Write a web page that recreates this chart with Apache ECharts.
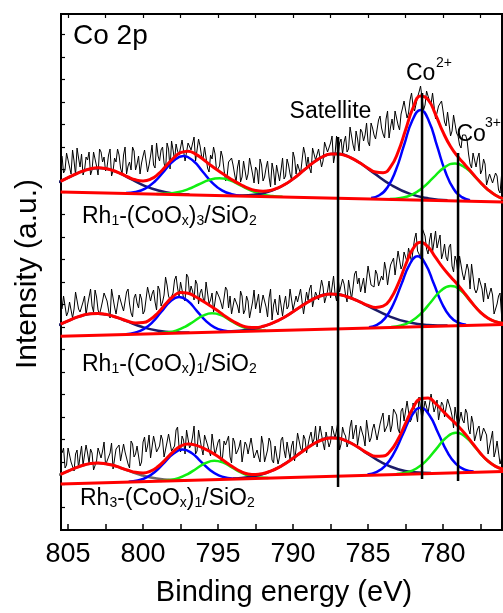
<!DOCTYPE html>
<html><head><meta charset="utf-8">
<script src="https://cdn.jsdelivr.net/npm/echarts@6/dist/echarts.min.js"></script>
<style>html,body{margin:0;padding:0;background:#fff}#c{width:503px;height:613px}</style>
</head><body><div id="c"></div>
<script>
const FONT = '"Liberation Sans", Arial, Helvetica, sans-serif';

// ---- x axis (binding energy, eV) ----
const xMin = 776.07, xMax = 805.47;
const xTicks = [777.5, 780, 782.5, 785, 787.5, 790, 792.5, 795, 797.5, 800, 802.5, 805];
const xTickLabels = [780, 785, 790, 795, 800, 805];
const yTicks = [22, 45, 67, 90, 112, 135, 157, 180, 202, 225, 247, 270, 292, 315, 337, 360, 382, 405, 427, 450, 472, 495];

// ---- raw spectra: samples at 805.4, 805.2, ... (A) and 805.3, 805.1, ... (B) ----
const A_START = 805.4, B_START = 805.3, STEP = 0.2;
const raw1A = [373,359,377,355,368,381,362,354,372,377,359,370,354,377,372,362,380,358,367,374,355,382,363,359,378,365,355,373,378,364,384,361,373,379,366,386,360,379,385,374,389,368,386,379,392,368,383,370,384,357,370,375,357,378,359,352,367,364,347,369,352,366,355,369,346,359,370,348,361,352,366,344,364,359,350,370,355,377,355,366,355,375,372,356,383,370,380,368,387,377,393,375,371,390,387,377,402,384,398,378,397,394,387,406,394,388,413,395,410,391,410,418,404,415,428,411,429,423,416,437,443,424,433,425,435,408,425,418,403,418,398,414,393,381,392,389,365,376,362,376,359,365,342,355,345,353,336,346];
const raw1B = [356,376,362,379,354,371,375,359,369,354,377,363,380,367,358,374,353,371,380,361,374,355,367,382,359,373,366,379,357,373,364,386,368,382,359,380,388,368,378,373,390,368,387,381,368,390,373,382,361,374,382,358,363,372,348,367,371,355,362,347,368,349,371,355,362,345,364,352,368,342,358,364,348,371,353,364,349,371,365,355,382,362,361,381,369,380,362,387,377,386,366,393,386,375,393,380,401,378,390,400,388,406,383,401,390,409,401,391,418,402,399,419,399,421,419,416,436,418,432,443,419,438,428,436,410,423,428,407,417,393,414,396,384,394,394,375,361,378,371,355,370,344,355,346,356,339,354];
const raw2A = [220,232,217,227,220,235,217,227,214,232,223,239,219,221,236,228,211,231,215,234,223,219,240,216,231,226,235,215,220,241,235,227,243,223,234,244,229,236,253,233,246,228,252,243,229,245,236,231,247,225,236,216,239,226,221,239,233,213,227,216,233,219,228,213,239,220,216,234,222,231,209,230,214,235,225,220,240,219,233,225,238,217,229,244,222,236,227,242,227,248,232,235,252,237,245,227,250,242,258,251,237,236,263,244,242,255,243,249,259,255,266,254,278,260,277,267,280,279,296,275,301,293,275,296,277,281,294,276,272,282,263,273,253,264,249,265,240,264,236,251,240,246,230,241,215,225,236,212];
const raw2B = [233,213,227,211,237,220,217,233,224,240,217,232,215,228,237,219,240,222,213,232,218,237,225,212,235,221,230,218,242,228,239,219,239,227,252,233,227,249,241,247,231,255,234,238,249,225,240,227,245,229,217,238,231,220,242,221,215,231,223,238,215,233,211,227,220,235,216,228,212,240,224,218,234,213,233,223,240,219,227,240,215,237,240,222,237,229,249,226,238,231,253,228,237,250,234,249,230,255,245,237,251,235,261,245,259,243,253,267,244,264,271,255,280,264,272,281,267,290,278,270,297,280,289,277,298,279,270,285,268,285,257,268,273,255,248,259,265,240,240,249,227,246,229,234,220,233,214];
const raw3A = [76,61,81,67,58,79,73,64,84,66,76,61,81,71,87,65,76,60,80,84,68,77,65,88,72,83,63,87,77,94,71,86,75,94,72,87,93,76,99,82,93,75,98,84,103,78,90,74,93,82,95,74,87,68,88,82,72,91,75,82,67,87,75,91,71,79,67,85,73,91,69,83,65,89,79,87,70,88,80,96,77,90,75,97,90,82,103,86,97,82,103,91,108,85,96,82,102,90,104,86,97,83,108,91,105,89,105,116,96,114,104,119,100,118,108,128,107,126,117,132,109,128,116,135,117,129,107,124,111,128,113,122,101,117,106,116,95,106,88,103,88,100,75,90,72,88,65,77];
const raw3B = [81,64,79,67,75,61,83,64,76,80,59,68,82,78,64,72,86,61,82,68,85,78,61,85,75,84,67,92,83,71,93,77,83,89,71,95,78,83,102,77,89,99,81,92,75,99,81,94,84,73,97,76,90,72,84,93,66,87,78,89,66,84,75,89,70,72,93,67,79,87,66,82,72,92,71,88,83,68,96,81,94,76,92,86,103,82,101,79,95,87,103,99,79,102,93,87,109,98,84,103,92,109,87,100,106,87,111,97,104,97,120,114,96,121,110,130,110,121,107,131,119,128,114,136,122,109,127,112,130,120,101,121,102,109,120,100,113,88,100,88,101,94,75,98,78,89,66];

// ---- fitted envelopes (red), sampled every 0.5 eV ----
const fitE = [805.5,805,804.5,804,803.5,803,802.5,802,801.5,801,800.5,800,799.5,799,798.5,798,797.5,797,796.5,796,795.5,795,794.5,794,793.5,793,792.5,792,791.5,791,790.5,790,789.5,789,788.5,788,787.5,787,786.5,786,785.5,785,784.5,784,783.5,783,782.5,782,781.5,781,780.5,780,779.5,779,778.5,778,777.5,777,776.5,776];
const env1 = [347.7,351.3,354.9,358.0,360.3,361.2,360.5,358.5,355.5,352.0,349.2,348.1,349.8,354.8,362.5,370.5,376.3,377.8,374.9,369.7,363.9,358.5,353.5,348.6,344.5,340.8,338.5,337.7,338.6,341.1,345.0,350.1,356.0,362.2,368.0,372.5,375.0,375.1,373.4,370.1,365.7,360.8,356.9,356.3,362.1,377.0,399.1,421.1,432.9,429.4,414.4,396.8,382.5,372.1,363.6,354.9,346.5,339.2,333.8,330.3];
const env2 = [204.8,208.1,211.3,213.8,215.3,215.6,214.7,212.8,210.3,207.8,206.1,206.4,209.7,216.3,224.9,232.5,236.5,235.8,232.2,227.7,223.0,218.1,212.5,207.7,203.9,201.8,201.5,202.7,205.1,208.4,212.5,217.3,222.3,227.0,231.1,233.8,234.9,234.5,232.8,230.1,226.8,223.6,221.6,222.8,230.2,244.9,264.0,280.3,286.7,282.1,271.6,261.1,252.3,243.8,234.5,224.9,216.6,210.8,207.3,205.7];
const env3 = [54.7,57.9,61.1,63.7,65.4,66.0,65.3,63.7,61.2,58.7,56.7,56.1,57.9,62.5,69.5,77.2,82.8,84.9,83.9,80.9,77.1,72.5,67.0,61.9,57.6,55.1,54.5,55.5,57.9,61.2,65.6,70.7,76.2,81.5,86.2,89.5,91.1,90.7,88.4,84.8,80.2,75.7,72.7,72.9,78.2,89.7,105.6,121.0,130.3,131.0,125.5,117.7,110.2,103.0,94.6,85.0,75.6,67.8,62.7,59.9];

// ---- linear backgrounds [eV, intensity] ----
const base1 = [[805.5,337.0],[776.0,327.0]];
const base2 = [[805.5,192.7],[776.0,204.5]];
const base3 = [[805.5,45.0],[776.0,57.5]];

// ---- fitted components [eV, intensity] ----
const n1 = [[796.9,334.4],[797.9,335.5],[798.9,338.2],[799.9,343.2],[800.9,350.7],[801.9,357.9],[802.9,361.1],[803.9,358.6],[804.9,352.0],[805.9,345.3],[806.9,340.9]];
const b1 = [[793.46,333.4],[794.1,334.9],[794.74,338.6],[795.38,346.2],[796.02,357.3],[796.66,368.2],[797.3,372.9],[797.94,368.6],[798.58,358.2],[799.22,347.5],[799.86,340.4],[800.5,337.0],[801.14,336.0]];
const g1 = [[790.7,332.2],[791.4,333.0],[792.1,334.8],[792.8,338.4],[793.5,343.5],[794.2,348.6],[794.9,350.8],[795.6,349.0],[796.3,344.5],[797.0,339.8],[797.7,336.7],[798.4,335.4],[799.1,335.0]];
const sat1 = [[779.7,328.8],[780.95,330.6],[782.2,335.1],[783.45,344.0],[784.7,356.9],[785.95,369.7],[787.2,375.3],[788.25,370.4],[789.3,358.5],[790.35,346.3],[791.4,338.3],[792.45,334.5],[793.5,333.4]];
const co2a = [[778.2,328.8],[778.75,331.9],[779.3,340.3],[779.85,357.5],[780.4,383.1],[780.95,408.1],[781.5,418.9],[782.05,408.5],[782.6,383.8],[783.15,358.7],[783.7,341.8],[784.25,333.8],[784.8,331.0]];
const co3a = [[774.85,327.0],[775.58,328.5],[776.3,332.2],[777.03,339.5],[777.75,350.3],[778.48,360.9],[779.2,365.6],[779.93,361.4],[780.65,351.3],[781.38,341.0],[782.1,334.1],[782.83,331.0],[783.55,330.0]];

const n2 = [[796.9,196.4],[797.95,196.7],[799.0,198.3],[800.05,202.0],[801.1,207.8],[802.15,213.5],[803.2,215.6],[804.25,212.6],[805.3,206.1],[806.35,199.5]];
const b2 = [[794.06,197.7],[794.65,198.6],[795.24,201.7],[795.83,208.3],[796.42,218.2],[797.01,227.9],[797.6,231.9],[798.19,227.4],[798.78,217.2],[799.37,206.8],[799.96,199.8],[800.55,196.3],[801.14,194.8]];
const g2 = [[791.8,198.4],[792.4,198.8],[793.0,200.3],[793.6,203.6],[794.2,208.7],[794.8,213.8],[795.4,215.7],[796.0,213.3],[796.6,207.8],[797.2,202.2],[797.8,198.4],[798.4,196.4],[799.0,195.5]];
const sat2 = [[779.7,203.4],[781.0,204.0],[782.3,206.7],[783.6,212.8],[784.9,222.2],[786.2,231.3],[787.5,234.9],[788.6,230.4],[789.7,220.3],[790.8,209.9],[791.9,202.9],[793.0,199.2],[794.1,197.7]];
const co2b = [[778.46,204.3],[779.0,206.4],[779.54,212.6],[780.08,225.8],[780.62,245.4],[781.16,264.7],[781.7,272.7],[782.24,264.2],[782.78,244.6],[783.32,224.5],[783.86,210.9],[784.4,204.2],[784.94,201.7]];
const co3b = [[775.54,205.1],[776.2,206.2],[776.86,209.6],[777.52,216.9],[778.18,227.9],[778.84,238.7],[779.5,243.1],[780.16,238.1],[780.82,226.8],[781.48,215.3],[782.14,207.5],[782.8,203.5],[783.46,202.0]];

const n3 = [[797.1,48.8],[798.1,49.0],[799.1,50.4],[800.1,53.8],[801.1,59.0],[802.1,64.1],[803.1,66.0],[804.1,63.2],[805.1,57.3],[806.1,51.2]];
const b3 = [[793.76,50.3],[794.36,51.1],[794.96,53.6],[795.56,59.3],[796.16,67.7],[796.76,76.0],[797.36,79.4],[797.96,75.5],[798.56,66.7],[799.16,57.7],[799.76,51.6],[800.36,48.5],[800.96,47.2]];
const g3 = [[791.65,51.1],[792.25,51.4],[792.85,52.9],[793.45,56.3],[794.05,61.4],[794.65,66.3],[795.25,68.3],[795.85,65.8],[796.45,60.3],[797.05,54.7],[797.65,50.9],[798.25,48.9],[798.85,48.0]];
const sat3 = [[780.8,55.9],[781.9,56.7],[783.0,59.7],[784.1,66.6],[785.2,76.9],[786.3,87.1],[787.4,91.2],[788.5,86.2],[789.6,75.1],[790.7,63.8],[791.8,56.0],[792.9,52.0],[794.0,50.3]];
const co2c = [[777.96,57.4],[778.55,59.3],[779.14,65.1],[779.73,77.3],[780.32,95.7],[780.91,113.7],[781.5,121.2],[782.09,113.2],[782.68,94.7],[783.27,75.8],[783.86,63.1],[784.45,56.8],[785.04,54.4]];
const co3c = [[775.18,58.3],[775.84,59.3],[776.5,62.7],[777.16,70.0],[777.82,81.0],[778.48,91.8],[779.14,96.2],[779.8,91.2],[780.46,79.9],[781.12,68.3],[781.78,60.5],[782.44,56.5],[783.1,54.9]];

// ---- reference lines (eV, top, bottom) ----
const refE = [787.0, 781.4, 779.0];
const refTop = [392, 436, 376];
const refBottom = [42, 50, 48];

// ---- styling ----
const RED = '#ff0000', BLUE = '#0000ff', GREEN = '#11ee11', NAVY = '#1c1c68', GREY = '#6a6a6a';

function ln(data, color, width, z, smooth) {
  return { type: 'line', data: data, symbol: 'none', showSymbol: false, smooth: smooth,
    lineStyle: { color: color, width: width }, itemStyle: { color: color },
    z: z, silent: true, clip: true, animation: false };
}
function rawPairs(a, b) {
  const out = [];
  for (let i = 0; i < a.length; i++) {
    out.push([+(A_START - i * STEP).toFixed(1), a[i]]);
    if (i < b.length) out.push([+(B_START - i * STEP).toFixed(1), b[i]]);
  }
  return out;
}
function envPairs(arr) { return fitE.map((e, i) => [e, arr[i]]); }

const series = [];
[[raw1A, raw1B, env1, base1, n1, b1, g1, sat1, co2a, co3a, NAVY],
 [raw2A, raw2B, env2, base2, n2, b2, g2, sat2, co2b, co3b, NAVY],
 [raw3A, raw3B, env3, base3, n3, b3, g3, sat3, co2c, co3c, GREY]].forEach(s => {
  series.push(ln(rawPairs(s[0], s[1]), '#000', 1, 2, false));
  series.push(ln(s[4], s[10], 2.5, 3, true));
  series.push(ln(s[5], BLUE, 2.5, 3, true));
  series.push(ln(s[6], GREEN, 2.5, 3, true));
  series.push(ln(s[7], NAVY, 2.5, 3, true));
  series.push(ln(s[8], BLUE, 2.5, 3, true));
  series.push(ln(s[9], GREEN, 2.5, 3, true));
  series.push(ln(s[3], RED, 3, 4, false));
  series.push(ln(envPairs(s[2]), RED, 3, 4, true));
});
refE.forEach((e, i) => series.push(ln([[e, refTop[i]], [e, refBottom[i]]], '#000', 2.5, 5, false)));

function txt(x, y, text, size, align, extra) {
  return Object.assign({ type: 'text', x: x, y: y, silent: true, z: 100,
    style: { text: text, fontSize: size, fontFamily: FONT, fill: '#000', align: align || 'left', verticalAlign: 'middle' } }, extra || {});
}
function richLabel(x, y, parts) {
  return { type: 'text', x: x, y: y, silent: true, z: 100,
    style: { text: parts, fontFamily: FONT, fill: '#000', align: 'left', verticalAlign: 'middle',
      rich: { m: { fontSize: 23, fontFamily: FONT, fill: '#000' },
              s: { fontSize: 14, fontFamily: FONT, fill: '#000', verticalAlign: 'bottom' } } } };
}

const option = {
  animation: false,
  backgroundColor: '#fff',
  grid: { left: 61, right: 1, top: 14, bottom: 83, containLabel: false, outerBoundsMode: 'none',
          show: true, borderColor: '#000', borderWidth: 2, backgroundColor: 'transparent' },
  xAxis: [
    { type: 'value', min: xMin, max: xMax, inverse: true, position: 'bottom',
      axisLine: { show: true, onZero: false, lineStyle: { color: '#000', width: 2 } },
      axisTick: { show: true, inside: true, length: 6, customValues: xTicks, lineStyle: { color: '#000', width: 1.5 } },
      axisLabel: { show: true, customValues: xTickLabels, fontSize: 27, fontFamily: FONT, color: '#000', margin: 11 },
      splitLine: { show: false } },
    { type: 'value', min: xMin, max: xMax, inverse: true, position: 'top',
      axisLine: { show: true, onZero: false, lineStyle: { color: '#000', width: 2 } },
      axisTick: { show: true, inside: true, length: 4, customValues: xTicks, lineStyle: { color: '#000', width: 1.2 } },
      axisLabel: { show: false }, splitLine: { show: false } }
  ],
  yAxis: [
    { type: 'value', min: -1, max: 515, position: 'left',
      axisLine: { show: true, onZero: false, lineStyle: { color: '#000', width: 2 } },
      axisTick: { show: true, inside: true, length: 4, customValues: yTicks, lineStyle: { color: '#000', width: 1.2 } },
      axisLabel: { show: false }, splitLine: { show: false } }
  ],
  series: series,
  graphic: [
    txt(73, 36, 'Co 2p', 28),
    txt(330.5, 112, 'Satellite', 23, 'center'),
    txt(406, 74, 'Co', 23),
    txt(436, 63.5, '2+', 14),
    txt(456.5, 134.5, 'Co', 23),
    txt(485, 123.5, '3+', 14),
    richLabel(82, 217, '{m|Rh}{s|1}{m|-(CoO}{s|x}{m|)}{s|3}{m|/SiO}{s|2}'),
    richLabel(82, 365, '{m|Rh}{s|1}{m|-(CoO}{s|x}{m|)}{s|1}{m|/SiO}{s|2}'),
    richLabel(80, 499, '{m|Rh}{s|3}{m|-(CoO}{s|x}{m|)}{s|1}{m|/SiO}{s|2}'),
    txt(284, 593, 'Binding energy (eV)', 29, 'center'),
    txt(28, 274, 'Intensity (a.u.)', 30, 'center', { rotation: Math.PI / 2 })
  ]
};

const chart = echarts.init(document.getElementById('c'), null, { renderer: 'canvas' });
chart.setOption(option);
</script>
</body></html>
